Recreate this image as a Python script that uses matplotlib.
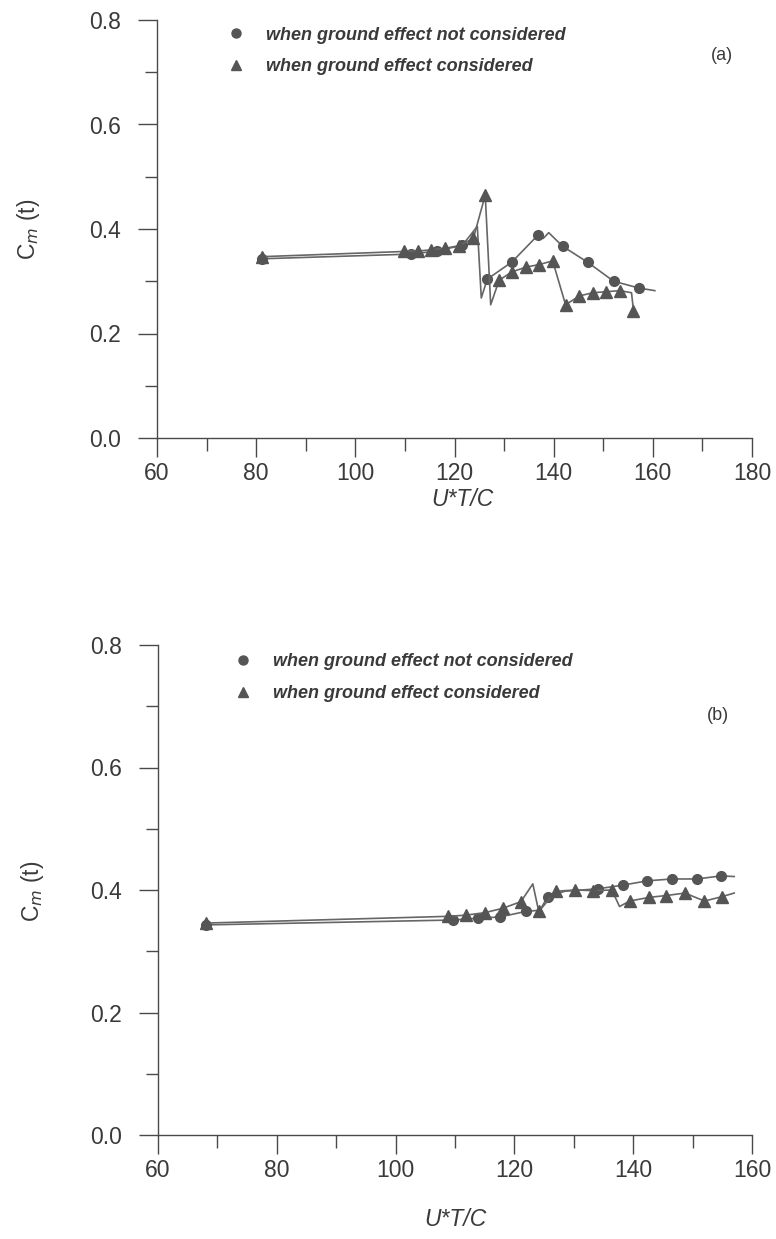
import matplotlib
matplotlib.use("Agg")
import matplotlib.pyplot as plt
from matplotlib.lines import Line2D
from matplotlib.ticker import MultipleLocator

# ---------------- data ----------------
# panel (a)
a_nc_x = [81.1, 111.3, 116.5, 121.6, 124.6, 125.4, 126.6, 131.6, 136.8, 137.9, 139.0, 141.8, 146.9, 152.1, 157.2, 160.4]
a_nc_y = [0.343, 0.352, 0.358, 0.369, 0.405, 0.268, 0.304, 0.337, 0.388, 0.382, 0.393, 0.367, 0.336, 0.300, 0.287, 0.282]
a_nc_mark = [1, 1, 1, 1, 0, 0, 1, 1, 1, 0, 0, 1, 1, 1, 1, 0]

a_c_x = [81.1, 109.8, 112.7, 115.2, 118.1, 120.9, 123.8, 126.2, 127.3, 129.0, 131.6, 134.4, 137.1, 139.8,
         142.4, 145.2, 147.9, 150.6, 153.4, 155.7, 156.1]
a_c_y = [0.347, 0.357, 0.358, 0.360, 0.363, 0.368, 0.382, 0.465, 0.255, 0.302, 0.318, 0.327, 0.332, 0.339,
         0.255, 0.272, 0.278, 0.280, 0.282, 0.278, 0.244]
a_c_mark = [1, 1, 1, 1, 1, 1, 1, 1, 0, 1, 1, 1, 1, 1, 1, 1, 1, 1, 1, 0, 1]

# panel (b)
b_nc_x = [68.0, 109.7, 113.8, 117.6, 121.9, 124.3, 125.6, 128.5, 134.1, 138.3, 142.4, 146.5, 150.7, 154.8, 157.0]
b_nc_y = [0.343, 0.351, 0.354, 0.356, 0.365, 0.367, 0.389, 0.398, 0.402, 0.408, 0.415, 0.418, 0.418, 0.423, 0.422]
b_nc_mark = [1, 1, 1, 1, 1, 0, 1, 0, 1, 1, 1, 1, 1, 1, 0]

b_c_x = [68.0, 108.9, 111.9, 115.0, 118.0, 121.1, 123.1, 124.1, 127.0, 130.2, 133.2, 136.4, 137.7, 139.4,
         142.7, 145.6, 148.7, 152.0, 154.9, 157.0]
b_c_y = [0.346, 0.357, 0.359, 0.363, 0.370, 0.381, 0.410, 0.365, 0.398, 0.400, 0.399, 0.400, 0.373, 0.382,
         0.388, 0.391, 0.395, 0.382, 0.389, 0.395]
b_c_mark = [1, 1, 1, 1, 1, 1, 0, 1, 1, 1, 1, 1, 0, 1, 1, 1, 1, 1, 1, 0]

labels = ["when ground effect not considered", "when ground effect considered"]
panel_tags = ["(a)", "(b)"]
xlabel = "U*T/C"
ylabel = r"C$_{\it m}$ (t)"

# ---------------- style ----------------
plt.rcParams['font.family'] = ['Liberation Sans', 'DejaVu Sans']
W, H = 776, 1239
DPI = 100
fig = plt.figure(figsize=(W / DPI, H / DPI), dpi=DPI)
fig.patch.set_facecolor('white')

ink = '#4a4a4a'
line_c = '#666666'
mark_c = '#555555'
text_c = '#3a3a3a'

def px(x0, y0):
    return x0 / W, 1 - y0 / H

def make_axes(left, right, top, bottom, xmax):
    ax = fig.add_axes([left / W, 1 - bottom / H, (right - left) / W, (bottom - top) / H])
    ax.set_xlim(60, xmax)
    ax.set_ylim(0, 0.8)
    ax.xaxis.set_major_locator(MultipleLocator(20))
    ax.xaxis.set_minor_locator(MultipleLocator(10))
    ax.yaxis.set_major_locator(MultipleLocator(0.2))
    ax.yaxis.set_minor_locator(MultipleLocator(0.1))
    ax.yaxis.set_major_formatter(matplotlib.ticker.FormatStrFormatter('%.1f'))
    for s in ['top', 'right']:
        ax.spines[s].set_visible(False)
    for s in ['left', 'bottom']:
        ax.spines[s].set_color(ink)
        ax.spines[s].set_linewidth(1.0)
    ax.tick_params(axis='both', which='both', direction='out', color=ink, width=1.0)
    ax.tick_params(axis='both', which='major', length=14, labelsize=16.5, labelcolor=text_c)
    ax.tick_params(axis='both', which='minor', length=9)
    ax.tick_params(axis='y', which='major', pad=12)
    ax.tick_params(axis='x', which='major', pad=3)
    ax.set_facecolor('white')
    return ax

def draw(ax, x, y, m, marker, ms):
    idx = [i for i, v in enumerate(m) if v]
    ax.plot(x, y, color=line_c, lw=1.2, marker=marker, markevery=idx, ms=ms,
            mfc=mark_c, mec=mark_c, clip_on=False)

panels = [
    dict(box=(157, 752, 20, 438), xmax=180, nc=(a_nc_x, a_nc_y, a_nc_mark), c=(a_c_x, a_c_y, a_c_mark),
         leg=(227, 26.5), tag=(722, 56), xl=(462, 500), yl=(29, 229)),
    dict(box=(158, 752, 645, 1135), xmax=160, nc=(b_nc_x, b_nc_y, b_nc_mark), c=(b_c_x, b_c_y, b_c_mark),
         leg=(234, 653.5), tag=(718, 716), xl=(455, 1219), yl=(32, 891)),
]

for i, p in enumerate(panels):
    l, r, t, b = p['box']
    ax = make_axes(l, r, t, b, p['xmax'])
    draw(ax, *p['nc'], 'o', 7)
    draw(ax, *p['c'], '^', 8)

    handles = [Line2D([], [], ls='none', marker='o', ms=6.5, mfc=mark_c, mec=mark_c),
               Line2D([], [], ls='none', marker='^', ms=7.5, mfc=mark_c, mec=mark_c)]
    lx, ly = p['leg']
    leg = ax.legend(handles, labels, loc='upper left', bbox_to_anchor=px(lx, ly),
                    bbox_transform=fig.transFigure, frameon=False, borderpad=0, borderaxespad=0,
                    handlelength=1.0, handletextpad=1.15, labelspacing=0.83,
                    prop=dict(family='Liberation Sans', weight='bold', style='italic', size=13))
    for txt in leg.get_texts():
        txt.set_color(text_c)

    tx, ty = p['tag']
    fig.text(*px(tx, ty), panel_tags[i], ha='center', va='center', fontsize=13, color=text_c)
    xx, xy = p['xl']
    fig.text(*px(xx, xy), xlabel, ha='center', va='center', fontsize=16.5, style='italic', color=text_c)
    yx, yy = p['yl']
    fig.text(*px(yx, yy), ylabel, ha='center', va='center', fontsize=16.5, rotation=90, color=text_c)

fig.savefig('out.png', dpi=DPI, facecolor='white')
